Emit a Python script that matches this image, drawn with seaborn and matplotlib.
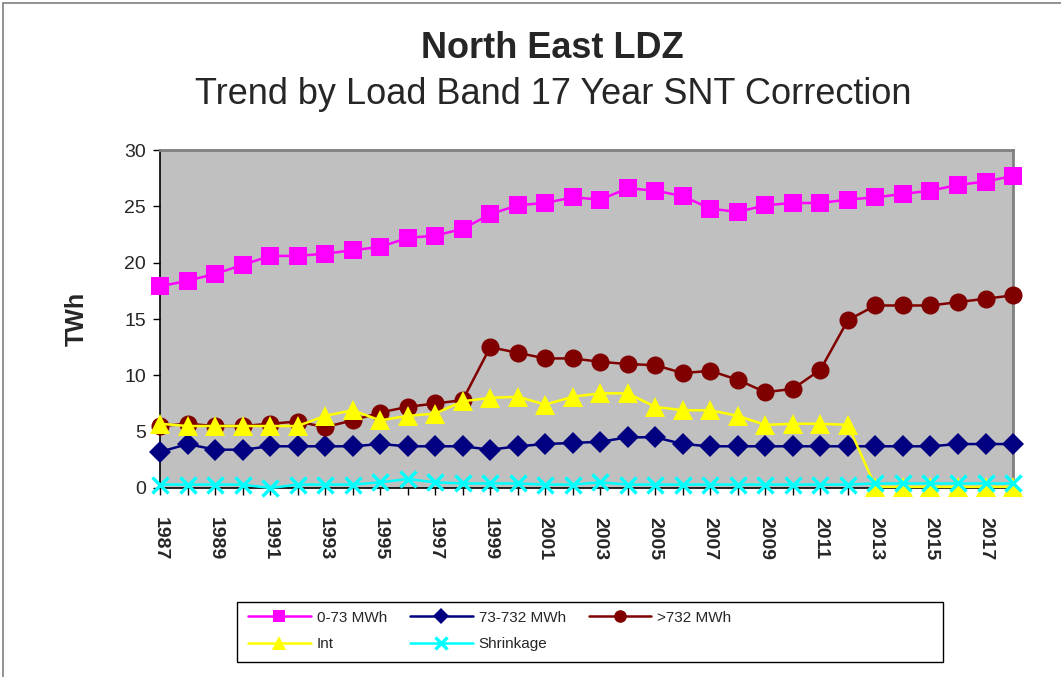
import numpy as np
import pandas as pd
import matplotlib
matplotlib.use("Agg")
import matplotlib.pyplot as plt
import seaborn as sns

years = list(range(1987, 2019))

band_0_73 = [17.9, 18.4, 19.0, 19.8, 20.6, 20.6, 20.8, 21.1, 21.4, 22.2, 22.4, 23.0,
             24.3, 25.1, 25.3, 25.8, 25.6, 26.6, 26.4, 25.9, 24.8, 24.5, 25.1, 25.3,
             25.3, 25.6, 25.8, 26.1, 26.4, 26.9, 27.2, 27.7]
band_73_732 = [3.2, 3.9, 3.4, 3.4, 3.7, 3.7, 3.7, 3.7, 3.9, 3.7, 3.7, 3.7,
               3.4, 3.7, 3.9, 4.0, 4.1, 4.5, 4.5, 3.9, 3.7, 3.7, 3.7, 3.7,
               3.7, 3.7, 3.7, 3.7, 3.7, 3.9, 3.9, 3.9]
band_732_plus = [5.5, 5.7, 5.5, 5.5, 5.7, 5.9, 5.4, 6.0, 6.7, 7.2, 7.5, 7.8,
                 12.5, 12.0, 11.5, 11.5, 11.2, 11.0, 10.9, 10.2, 10.4, 9.6, 8.5, 8.8,
                 10.5, 14.9, 16.2, 16.2, 16.2, 16.5, 16.8, 17.1]
interruptible = [5.7, 5.5, 5.5, 5.5, 5.5, 5.5, 6.4, 6.9, 6.0, 6.4, 6.6, 7.7,
                 8.0, 8.1, 7.4, 8.1, 8.4, 8.4, 7.2, 6.9, 6.9, 6.4, 5.6, 5.7,
                 5.7, 5.6, 0.1, 0.1, 0.1, 0.1, 0.1, 0.1]
shrinkage = [0.3, 0.3, 0.3, 0.3, 0.0, 0.3, 0.3, 0.3, 0.5, 0.8, 0.5, 0.4,
             0.4, 0.4, 0.3, 0.3, 0.5, 0.3, 0.3, 0.3, 0.3, 0.3, 0.3, 0.3,
             0.3, 0.3, 0.4, 0.4, 0.4, 0.4, 0.4, 0.4]

series_names = ["0-73 MWh", "73-732 MWh", ">732 MWh", "Int", "Shrinkage"]
series_values = [band_0_73, band_73_732, band_732_plus, interruptible, shrinkage]

df = pd.DataFrame({"Year": years})
for name, vals in zip(series_names, series_values):
    df[name] = vals
long_df = df.melt(id_vars="Year", var_name="Band", value_name="TWh")

styles = {
    "0-73 MWh": dict(color="#FF00FF", marker="s", ms=13, mew=0),
    "73-732 MWh": dict(color="#000080", marker="D", ms=11, mew=0),
    ">732 MWh": dict(color="#800000", marker="o", ms=13, mew=0),
    "Int": dict(color="#FFFF00", marker="^", ms=15, mew=0),
    "Shrinkage": dict(color="#00FFFF", marker="x", ms=12, mew=2.4),
}

sns.set_style("white")
plt.rcParams["font.family"] = ["Liberation Sans", "DejaVu Sans"]

fig = plt.figure(figsize=(10.61, 6.77), dpi=100)
ax = fig.add_axes([0.1508, 0.2792, 0.8040, 0.4992])
ax.set_facecolor("#C0C0C0")

handles = {}
for name in series_names:
    st = styles[name]
    sub = long_df[long_df["Band"] == name]
    sns.lineplot(data=sub, x="Year", y="TWh", ax=ax, color=st["color"],
                 linewidth=1.8, marker=st["marker"], markersize=st["ms"],
                 markeredgewidth=st["mew"], markeredgecolor=st["color"],
                 legend=False, clip_on=False, zorder=3)
    handles[name] = ax.lines[-1]

ax.set_xlim(1987, 2018)
ax.set_ylim(0, 30)
ax.set_yticks(range(0, 31, 5))
ax.set_xticks(years, minor=True)
ax.set_xticks(years[::2])
ax.set_xticklabels([str(y) for y in years[::2]], rotation=270,
                   fontsize=14, fontweight="bold")
ax.tick_params(axis="y", labelsize=14, direction="out", length=5, width=1,
               left=True, color="black", pad=5)
ax.tick_params(axis="x", which="both", direction="out", length=5, width=1,
               bottom=True, color="black", pad=16)
ax.set_xlabel("")
ax.set_ylabel("TWh", fontsize=18, fontweight="bold")
ax.yaxis.set_label_coords(-0.084, 0.5)

for side in ["left", "bottom"]:
    ax.spines[side].set_color("black")
    ax.spines[side].set_linewidth(1.2)
for side in ["top", "right"]:
    ax.spines[side].set_color("#808080")
    ax.spines[side].set_linewidth(2)

fig.text(0.521, 0.928, "North East LDZ", ha="center", va="center",
         fontsize=26, fontweight="bold")
fig.text(0.521, 0.860, "Trend by Load Band 17 Year SNT Correction",
         ha="center", va="center", fontsize=26)

# legend frame drawn separately so the box keeps the reference size
frame = plt.Rectangle((237 / 1061, 1 - 662 / 677), 706 / 1061, 60 / 677,
                      transform=fig.transFigure, fill=False,
                      edgecolor="black", linewidth=1.0)
fig.patches.append(frame)

order = ["0-73 MWh", "Int", "73-732 MWh", "Shrinkage", ">732 MWh"]
leg = fig.legend([handles[n] for n in order], order, ncol=3,
                 loc="center left", bbox_to_anchor=(248 / 1061, 1 - 631 / 677),
                 fontsize=11, frameon=False, handlelength=4.1, markerscale=0.7,
                 borderaxespad=0, borderpad=0, labelspacing=0.85,
                 columnspacing=1.5, handletextpad=0.4)

fig.add_artist(plt.Line2D([0.003, 0.003], [0.0, 0.996], transform=fig.transFigure,
                          color="#808080", linewidth=1.2))
fig.add_artist(plt.Line2D([0.003, 1.0], [0.996, 0.996], transform=fig.transFigure,
                          color="#808080", linewidth=1.2))

fig.savefig("out.png", dpi=100)
